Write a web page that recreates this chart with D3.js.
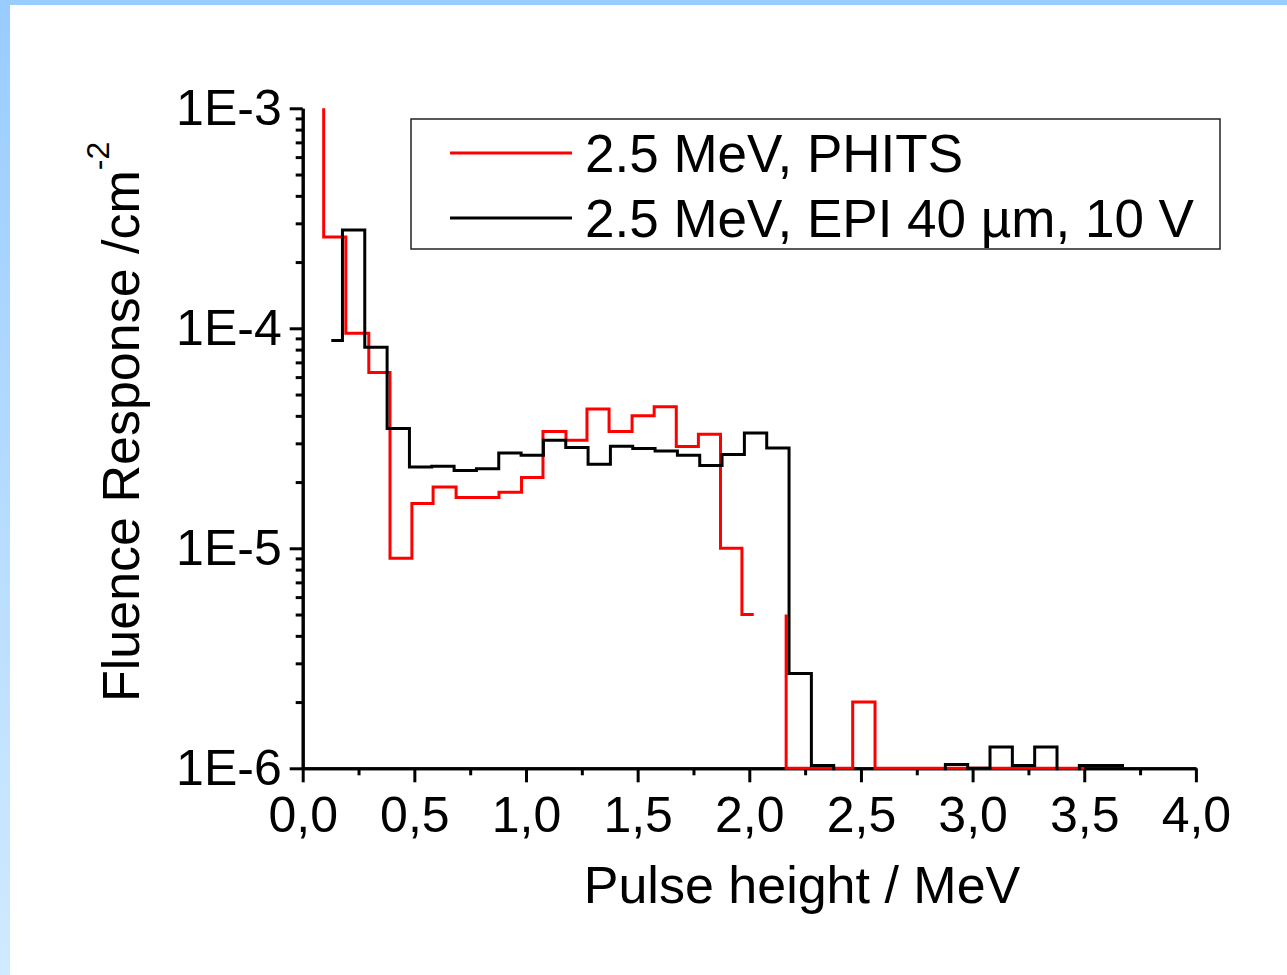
<!DOCTYPE html>
<html>
<head>
<meta charset="utf-8">
<script src="https://cdn.jsdelivr.net/npm/d3@7"></script>
<style>
  html, body { margin: 0; padding: 0; background: #fff; }
  svg { display: block; }
</style>
</head>
<body>
<svg id="chart" width="1287" height="975"></svg>
<script>
// PHITS simulation, bin edges (MeV) and fluence response per bin (null = no data)
const redEdges = [0.044, 0.094, 0.193, 0.296, 0.391, 0.489, 0.584, 0.687, 0.783, 0.879, 0.980,
                  1.076, 1.179, 1.273, 1.372, 1.475, 1.574, 1.673, 1.772, 1.871, 1.967,
                  2.020, 2.165, 2.165, 2.463, 2.563, 2.957, 3.500];
const redValues = [2.0e-3, 2.6e-4, 9.5e-5, 6.3e-5, 9.0e-6, 1.6e-5, 1.9e-5, 1.7e-5, 1.7e-5, 1.8e-5,
                   2.1e-5, 3.4e-5, 3.1e-5, 4.3e-5, 3.4e-5, 4.0e-5, 4.4e-5, 2.9e-5, 3.3e-5, 1.0e-5,
                   5.0e-6, null, 5.0e-6, 1.0e-6, 2.0e-6, 1.0e-6, 1.0e-6];

// EPI 40 um, 10 V measurement
const blackEdges = [0.128, 0.178, 0.278, 0.378, 0.478, 0.578, 0.678, 0.778, 0.878, 0.978, 1.078,
                    1.178, 1.278, 1.378, 1.478, 1.578, 1.678, 1.778, 1.878, 1.978, 2.078,
                    2.178, 2.278, 2.378, 2.478, 2.578, 2.678, 2.778, 2.878, 2.978, 3.078,
                    3.178, 3.278, 3.378, 3.478, 3.578, 3.678];
const blackValues = [8.8e-5, 2.8e-4, 8.2e-5, 3.5e-5, 2.34e-5, 2.36e-5, 2.26e-5, 2.30e-5, 2.71e-5, 2.65e-5,
                     3.10e-5, 2.87e-5, 2.41e-5, 2.91e-5, 2.84e-5, 2.77e-5, 2.65e-5, 2.38e-5, 2.67e-5, 3.34e-5,
                     2.86e-5, 2.7e-6, 1.03e-6, 5e-7, 5e-7, 5e-7, 5e-7, 5e-7, 1.04e-6, 1.0e-6,
                     1.25e-6, 1.03e-6, 1.25e-6, 5e-7, 1.03e-6, 1.03e-6];

const seriesNames = ["2.5 MeV, PHITS", "2.5 MeV, EPI 40 \u00b5m, 10 V"];
const seriesColors = ["#ff0000", "#000000"];

const xMajorTicks = [0, 0.5, 1, 1.5, 2, 2.5, 3, 3.5, 4];
const xTickLabels = ["0,0", "0,5", "1,0", "1,5", "2,0", "2,5", "3,0", "3,5", "4,0"];
const xMinorTicks = [0.25, 0.75, 1.25, 1.75, 2.25, 2.75, 3.25, 3.75];
const yMajorTicks = [1e-6, 1e-5, 1e-4, 1e-3];
const yTickLabels = ["1E-6", "1E-5", "1E-4", "1E-3"];

const font = "'Liberation Sans', Arial, sans-serif";
const svg = d3.select("#chart");

// frame: light blue band at top and a gradient band on the left
const defs = svg.append("defs");
const grad = defs.append("linearGradient").attr("id", "leftband")
  .attr("x1", 0).attr("y1", 0).attr("x2", 0).attr("y2", 1);
grad.append("stop").attr("offset", "0%").attr("stop-color", "#99ccff");
grad.append("stop").attr("offset", "100%").attr("stop-color", "#d0eaff");
svg.append("rect").attr("x", 0).attr("y", 0).attr("width", 10).attr("height", 975).attr("fill", "url(#leftband)");
svg.append("rect").attr("x", 0).attr("y", 0).attr("width", 1287).attr("height", 5).attr("fill", "#99ccff");

const plotL = 302.7, plotR = 1195.9, plotT = 108.3, plotB = 768.3;

const x = d3.scaleLinear().domain([0, 4]).range([plotL, plotR]);
const y = d3.scaleLog().domain([1e-6, 1e-3]).range([plotB, plotT]);

defs.append("clipPath").attr("id", "plotclip")
  .append("rect").attr("x", plotL).attr("y", plotT).attr("width", plotR - plotL + 2).attr("height", plotB - plotT + 2);

// axes
const yMinor = [];
[1e-6, 1e-5, 1e-4].forEach(d => { for (let k = 2; k <= 9; k++) yMinor.push(d * k); });

function styleAxis(g) {
  g.selectAll("path.domain").attr("stroke", "#000").attr("stroke-width", 3);
  g.selectAll(".tick line").attr("stroke", "#000").attr("stroke-width", 3);
  g.selectAll("text").attr("fill", "#000");
  g.attr("font-family", font).attr("font-size", 50);
}

svg.append("g").attr("transform", `translate(0,${plotB})`)
  .call(d3.axisBottom(x).tickValues(xMinorTicks).tickSize(7).tickSizeOuter(0).tickFormat(""))
  .call(styleAxis);
svg.append("g").attr("transform", `translate(0,${plotB})`)
  .call(d3.axisBottom(x).tickValues(xMajorTicks).tickSize(14).tickSizeOuter(0).tickPadding(14)
    .tickFormat((d, i) => xTickLabels[i]))
  .call(styleAxis);

svg.append("g").attr("transform", `translate(${plotL},0)`)
  .call(d3.axisLeft(y).tickValues(yMinor).tickSize(7).tickSizeOuter(0).tickFormat(""))
  .call(styleAxis);
svg.append("g").attr("transform", `translate(${plotL},0)`)
  .call(d3.axisLeft(y).tickValues(yMajorTicks).tickSize(13).tickSizeOuter(0).tickPadding(8)
    .tickFormat((d, i) => yTickLabels[i]))
  .call(styleAxis);

// step histograms
function stepPoints(edges, values) {
  const pts = [];
  values.forEach((v, i) => {
    if (v == null) { pts.push({x: edges[i], v: null}); return; }
    pts.push({x: edges[i], v: v});
    pts.push({x: edges[i + 1], v: v});
  });
  return pts;
}

const line = d3.line()
  .defined(d => d.v != null)
  .x(d => x(d.x))
  .y(d => y(d.v));

const plot = svg.append("g").attr("clip-path", "url(#plotclip)");
[[redEdges, redValues], [blackEdges, blackValues]].forEach((s, i) => {
  plot.append("path")
    .attr("d", line(stepPoints(s[0], s[1])))
    .attr("fill", "none")
    .attr("stroke", seriesColors[i])
    .attr("stroke-width", 3)
    .attr("stroke-linejoin", "miter");
});

// axis titles
svg.append("text")
  .attr("x", 802).attr("y", 903)
  .attr("text-anchor", "middle")
  .attr("font-family", font).attr("font-size", 52)
  .text("Pulse height / MeV");

const yt = svg.append("text")
  .attr("transform", "translate(139,702) rotate(-90)")
  .attr("font-family", font).attr("font-size", 52);
yt.append("tspan").text("Fluence Response /cm");
yt.append("tspan").attr("dy", -30).attr("font-size", 32).text("-2");

// legend
const lg = svg.append("g");
lg.append("rect").attr("x", 411).attr("y", 119).attr("width", 809).attr("height", 130)
  .attr("fill", "#fff").attr("stroke", "#222").attr("stroke-width", 1.5);
seriesNames.forEach((name, i) => {
  const ly = 153 + i * 65;
  lg.append("line").attr("x1", 450).attr("x2", 572).attr("y1", ly).attr("y2", ly)
    .attr("stroke", seriesColors[i]).attr("stroke-width", 3);
  lg.append("text").attr("x", 585).attr("y", ly + 19)
    .attr("font-family", font).attr("font-size", 53).text(name);
});
</script>
</body>
</html>
